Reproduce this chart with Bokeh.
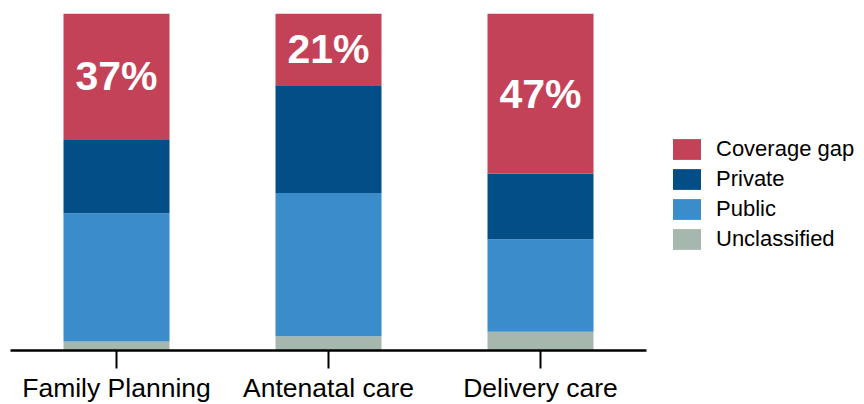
from bokeh.plotting import figure
from bokeh.models import Range1d, FactorRange, Legend, LegendItem, ColumnDataSource
from bokeh.core.properties import value
from bokeh.embed import file_html
from bokeh.resources import INLINE

categories = ["Family Planning", "Antenatal care", "Delivery care"]
unclassified = [2.7, 4.2, 5.6]
public = [38.0, 42.5, 27.4]
private = [22.0, 32.0, 19.5]
coverage_gap = [37.3, 21.3, 47.5]
gap_labels = ["37%", "21%", "47%"]

series_names = ["Unclassified", "Public", "Private", "Coverage gap"]
colors = ["#A6B8AD", "#3A8CCA", "#034E87", "#C44257"]

FONT = "Liberation Sans"

src = ColumnDataSource(dict(cat=categories, Unclassified=unclassified, Public=public,
                            Private=private, **{"Coverage gap": coverage_gap}))

p = figure(x_range=FactorRange(*categories, range_padding=0), y_range=Range1d(0, 100),
           frame_width=636, frame_height=337, output_backend="svg", toolbar_location=None,
           min_border_left=10, min_border_right=212, min_border_top=13, min_border_bottom=52)

rends = p.vbar_stack(series_names, x="cat", width=0.5, source=src, color=colors, line_color=None)

label_y = [100 - g / 2 for g in coverage_gap]
p.text(x=categories, y=label_y, text=gap_labels, text_align="center", text_baseline="middle",
       text_color="white", text_font=value(FONT), text_font_style="bold", text_font_size="41px")

p.yaxis.visible = False
p.grid.visible = False
p.outline_line_color = None

ax = p.xaxis[0]
ax.axis_line_width = 2.5
ax.axis_line_color = "black"
ax.major_tick_line_width = 2
ax.major_tick_line_color = "black"
ax.major_tick_in = 0
ax.major_tick_out = 18
ax.minor_tick_line_color = None
ax.major_label_text_font = FONT
ax.major_label_text_font_size = "26.5px"
ax.major_label_text_color = "black"
ax.major_label_standoff = 4

items = [LegendItem(label=n, renderers=[r]) for n, r in zip(series_names, rends)][::-1]
legend = Legend(items=items, location=(23, 98), padding=0, margin=0, spacing=4,
                glyph_width=35, glyph_height=26, label_height=26, label_standoff=12,
                label_text_font=FONT, label_text_font_size="22px", label_text_color="black",
                border_line_color=None, background_fill_alpha=0)
p.add_layout(legend, "right")

open("out.html", "w").write(file_html(p, INLINE))
